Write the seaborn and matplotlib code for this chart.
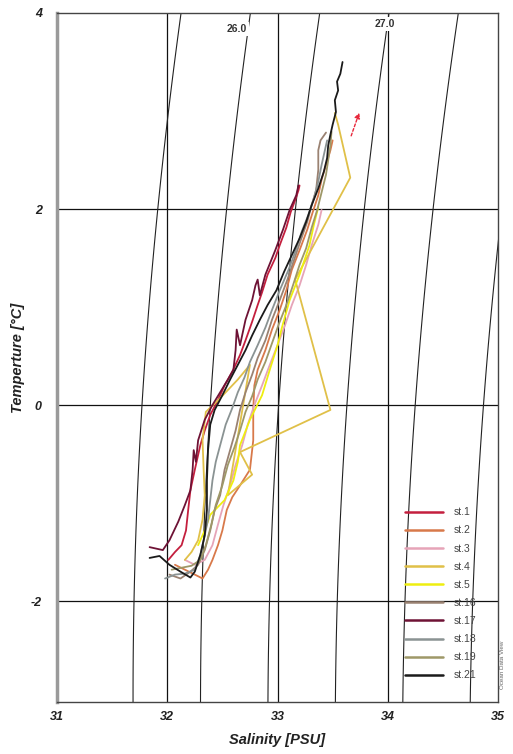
import numpy as np
import pandas as pd
import matplotlib
matplotlib.use("Agg")
import matplotlib.pyplot as plt
import seaborn as sns

# ---------------- data ----------------
stations = ["st.1", "st.2", "st.3", "st.4", "st.5", "st.16", "st.17", "st.18", "st.19", "st.21"]
colors = ["#c41f3e", "#d8794a", "#e6a4b8", "#e0c048", "#eeee10",
          "#9a8272", "#6e1235", "#8a9393", "#9e9868", "#1a1a1a"]

s_st1 = [32.01, 32.07, 32.13, 32.17, 32.19, 32.21, 32.25, 32.30, 32.34, 32.39, 32.46, 32.52, 32.59,
         32.66, 32.71, 32.77, 32.82, 32.86, 32.91, 32.98, 33.02, 33.08, 33.12, 33.16, 33.19, 33.20]
t_st1 = [-1.58, -1.50, -1.43, -1.28, -1.07, -0.87, -0.66, -0.41, -0.26, -0.10, 0.05, 0.20, 0.34,
         0.51, 0.66, 0.85, 1.02, 1.15, 1.33, 1.50, 1.63, 1.81, 1.97, 2.09, 2.19, 2.24]

s_st2 = [32.07, 32.16, 32.25, 32.32, 32.37, 32.41, 32.46, 32.50, 32.54, 32.59, 32.66, 32.75, 32.78,
         32.78, 32.79, 32.82, 32.89, 32.95, 33.02, 33.08, 33.13, 33.20, 33.27, 33.32, 33.37, 33.40,
         33.44, 33.48, 33.50]
t_st2 = [-1.63, -1.68, -1.73, -1.77, -1.68, -1.58, -1.43, -1.28, -1.07, -0.94, -0.82, -0.66, -0.36,
         -0.05, 0.20, 0.36, 0.56, 0.77, 0.97, 1.17, 1.38, 1.58, 1.79, 1.97, 2.14, 2.30,
         2.45, 2.60, 2.70]

s_st3 = [32.16, 32.25, 32.34, 32.41, 32.46, 32.51, 32.57, 32.62, 32.68, 32.73, 32.79, 32.86, 32.93,
         33.00, 33.07, 33.13, 33.20, 33.26, 33.31, 33.37, 33.40]
t_st3 = [-1.58, -1.63, -1.58, -1.43, -1.22, -1.02, -0.82, -0.61, -0.41, -0.20, 0.00, 0.20, 0.41,
         0.61, 0.82, 1.02, 1.22, 1.43, 1.63, 1.84, 1.99]

s_st4 = [32.16, 32.22, 32.28, 32.32, 32.34, 32.33, 32.32, 32.35, 32.48, 32.64, 32.75, 32.55, 32.77,
         32.66, 33.48, 33.16, 33.66, 33.55, 33.52]
t_st4 = [-1.58, -1.50, -1.38, -1.17, -0.92, -0.66, -0.36, -0.07, 0.07, 0.26, 0.41, -0.92, -0.71,
         -0.48, -0.05, 1.28, 2.32, 2.86, 2.98]

s_st5 = [32.28, 32.34, 32.39, 32.52, 32.60, 32.64, 32.66, 32.75, 32.86, 32.93, 33.00, 33.04, 33.11,
         33.20, 33.26, 33.29, 33.33, 33.37]
t_st5 = [-1.43, -1.28, -1.12, -0.97, -0.77, -0.58, -0.41, -0.15, 0.10, 0.36, 0.61, 0.79, 1.07,
         1.33, 1.53, 1.63, 1.84, 2.02]

s_st16 = [32.02, 32.12, 32.21, 32.28, 32.34, 32.39, 32.43, 32.48, 32.52, 32.57, 32.62, 32.66, 32.71,
          32.77, 32.82, 32.89, 32.95, 33.02, 33.09, 33.15, 33.21, 33.27, 33.31, 33.35, 33.37, 33.37,
          33.39, 33.44]
t_st16 = [-1.73, -1.77, -1.70, -1.63, -1.48, -1.28, -1.07, -0.92, -0.66, -0.46, -0.26, -0.05, 0.13,
          0.31, 0.48, 0.66, 0.87, 1.07, 1.28, 1.48, 1.68, 1.87, 2.04, 2.19, 2.40, 2.60,
          2.70, 2.78]

s_st17 = [31.84, 31.96, 32.02, 32.10, 32.16, 32.21, 32.23, 32.24, 32.26, 32.28, 32.34, 32.41, 32.48,
          32.55, 32.60, 32.62, 32.63, 32.66, 32.71, 32.77, 32.80, 32.82, 32.84, 32.89, 32.98, 33.05,
          33.11, 33.17, 33.19]
t_st17 = [-1.45, -1.48, -1.38, -1.19, -1.02, -0.87, -0.66, -0.46, -0.58, -0.36, -0.15, 0.00, 0.13,
          0.26, 0.36, 0.56, 0.77, 0.61, 0.87, 1.07, 1.22, 1.28, 1.12, 1.33, 1.58, 1.79,
          1.99, 2.14, 2.24]

s_st18 = [31.98, 32.07, 32.16, 32.25, 32.30, 32.33, 32.37, 32.39, 32.41, 32.44, 32.48, 32.53, 32.59,
          32.64, 32.70, 32.75, 32.82, 32.89, 32.95, 33.02, 33.10, 33.16, 33.22, 33.28, 33.33, 33.37,
          33.40, 33.43, 33.45]
t_st18 = [-1.77, -1.73, -1.72, -1.68, -1.53, -1.38, -1.17, -0.97, -0.77, -0.58, -0.41, -0.20, -0.03,
          0.13, 0.28, 0.44, 0.61, 0.79, 0.97, 1.17, 1.38, 1.56, 1.77, 1.94, 2.11, 2.28,
          2.45, 2.60, 2.70]

s_st19 = [32.04, 32.13, 32.22, 32.30, 32.35, 32.40, 32.44, 32.50, 32.55, 32.61, 32.66, 32.71, 32.77,
          32.82, 32.89, 32.95, 33.01, 33.08, 33.14, 33.20, 33.26, 33.31, 33.36, 33.40, 33.44, 33.46,
          33.48, 33.49]
t_st19 = [-1.68, -1.66, -1.64, -1.58, -1.43, -1.22, -1.02, -0.82, -0.61, -0.43, -0.26, -0.07, 0.09,
          0.26, 0.44, 0.63, 0.82, 1.02, 1.22, 1.43, 1.60, 1.81, 1.99, 2.17, 2.35, 2.50,
          2.65, 2.79]

s_st21 = [31.84, 31.93, 32.02, 32.12, 32.21, 32.25, 32.30, 32.34, 32.36, 32.36, 32.37, 32.39, 32.43,
          32.50, 32.57, 32.64, 32.71, 32.77, 32.84, 32.91, 32.99, 33.06, 33.13, 33.20, 33.26, 33.31,
          33.37, 33.42, 33.45, 33.46, 33.48, 33.50, 33.53, 33.52, 33.55, 33.54, 33.57, 33.59]
t_st21 = [-1.56, -1.54, -1.63, -1.70, -1.76, -1.70, -1.53, -1.33, -1.07, -0.77, -0.46, -0.20, -0.05,
          0.10, 0.26, 0.41, 0.56, 0.71, 0.87, 1.02, 1.17, 1.36, 1.53, 1.70, 1.87, 2.04,
          2.21, 2.38, 2.52, 2.65, 2.76, 2.86, 2.99, 3.11, 3.21, 3.30, 3.38, 3.50]

station_s = [s_st1, s_st2, s_st3, s_st4, s_st5, s_st16, s_st17, s_st18, s_st19, s_st21]
station_t = [t_st1, t_st2, t_st3, t_st4, t_st5, t_st16, t_st17, t_st18, t_st19, t_st21]

sigma_levels = [25.5, 26.0, 26.5, 27.0, 27.5, 28.0]
sigma_label_text = ["26.0", "27.0"]
sigma_label_pos = [(32.63, 3.84), (33.97, 3.89)]

arrow_from = (33.66, 2.72)
arrow_to = (33.75, 3.01)

x_major = [31, 32, 33, 34, 35]
x_minor = [31.5, 32.5, 33.5, 34.5]
y_major = [-2, 0, 2, 4]
y_minor = [-3, -1, 1, 3]
xlim = (31, 35)
ylim = (-3.03, 4.0)


def sigma0(S, T):
    rw = (999.842594 + 6.793952e-2 * T - 9.095290e-3 * T**2 + 1.001685e-4 * T**3
          - 1.120083e-6 * T**4 + 6.536332e-9 * T**5)
    A = 0.824493 - 4.0899e-3 * T + 7.6438e-5 * T**2 - 8.2467e-7 * T**3 + 5.3875e-9 * T**4
    B = -5.72466e-3 + 1.0227e-4 * T - 1.6546e-6 * T**2
    C = 4.8314e-4
    return rw + A * S + B * S**1.5 + C * S**2 - 1000.0


# ---------------- figure ----------------
sns.set_style("white")
plt.rcParams["font.family"] = ["Liberation Sans", "DejaVu Sans"]

W, H = 513, 754
fig = plt.figure(figsize=(W / 100, H / 100), dpi=100)
ax = fig.add_axes([57 / W, 1 - 702 / H, 441 / W, 689 / H])

# isopycnals
Sg, Tg = np.meshgrid(np.linspace(30.5, 35.8, 300), np.linspace(-3.5, 4.5, 300))
ax.contour(Sg, Tg, sigma0(Sg, Tg), levels=sigma_levels, colors="#222222", linewidths=0.8, zorder=1)
for txt, (sx, ty) in zip(sigma_label_text, sigma_label_pos):
    ax.text(sx, ty, txt, ha="center", va="center", fontsize=7.5, fontweight="bold", color="#333333",
            bbox=dict(facecolor="white", edgecolor="none", pad=1.5), zorder=2)

# grid
for gx in [32, 33, 34]:
    ax.axvline(gx, color="#111111", lw=0.9, zorder=0.8)
for gy in [-2, 0, 2]:
    ax.axhline(gy, color="#111111", lw=0.9, zorder=0.8)

# profiles
frames = []
for name, s, t in zip(stations, station_s, station_t):
    frames.append(pd.DataFrame({"S": s, "T": t, "station": name, "idx": np.arange(len(s))}))
df = pd.concat(frames, ignore_index=True)
sns.lineplot(data=df, x="S", y="T", hue="station", hue_order=stations,
             palette=dict(zip(stations, colors)), sort=False, estimator=None,
             lw=1.3, ax=ax, zorder=3)

# small arrow marker
ax.annotate("", xy=arrow_to, xytext=arrow_from,
            arrowprops=dict(arrowstyle="-|>", color="#e8283c", lw=1.0, ls=(0, (2, 1.5)),
                            mutation_scale=8), zorder=4)

ax.set_xlim(*xlim)
ax.set_ylim(*ylim)
ax.set_xticks(x_major)
ax.set_xticks(x_minor, minor=True)
ax.set_yticks(y_major)
ax.set_yticks(y_minor, minor=True)
ax.set_xticklabels([str(v) for v in x_major])
ax.set_yticklabels([str(v) for v in y_major])
for lab in ax.get_xticklabels() + ax.get_yticklabels():
    lab.set_fontstyle("italic")
    lab.set_fontweight("bold")
    lab.set_fontsize(9)
    lab.set_color("#222222")
ax.tick_params(axis="x", which="both", direction="inout", length=7, width=0.9, color="#444444", pad=3)
ax.tick_params(axis="y", which="both", direction="out", length=6, width=0.9, color="#444444", pad=5)

ax.set_xlabel("Salinity [PSU]", fontsize=10.5, fontweight="bold", fontstyle="italic", color="#222222", labelpad=7)
ax.set_ylabel("Temperture [°C]", fontsize=10.5, fontweight="bold", fontstyle="italic", color="#222222", labelpad=4)

for side in ["top", "right", "bottom"]:
    ax.spines[side].set_color("#444444")
    ax.spines[side].set_linewidth(1.0)
ax.spines["left"].set_color("#9a9a9a")
ax.spines["left"].set_linewidth(2.5)

# legend
handles, labels = ax.get_legend_handles_labels()
leg = ax.legend(handles, labels, loc="upper left",
                bbox_to_anchor=((405 - 57) / 441, (702 - 507) / 690),
                frameon=False, fontsize=7.5, handlelength=3.6, labelspacing=0.78,
                handletextpad=1.1, borderpad=0, borderaxespad=0)
for t in leg.get_texts():
    t.set_color("#444444")
for l in leg.get_lines():
    l.set_linewidth(1.8)

fig.text(503 / W, 1 - 665 / H, "Ocean Data View", rotation=90, fontsize=4.5,
         color="#666666", ha="center", va="center")

fig.savefig("out.png", dpi=100)
